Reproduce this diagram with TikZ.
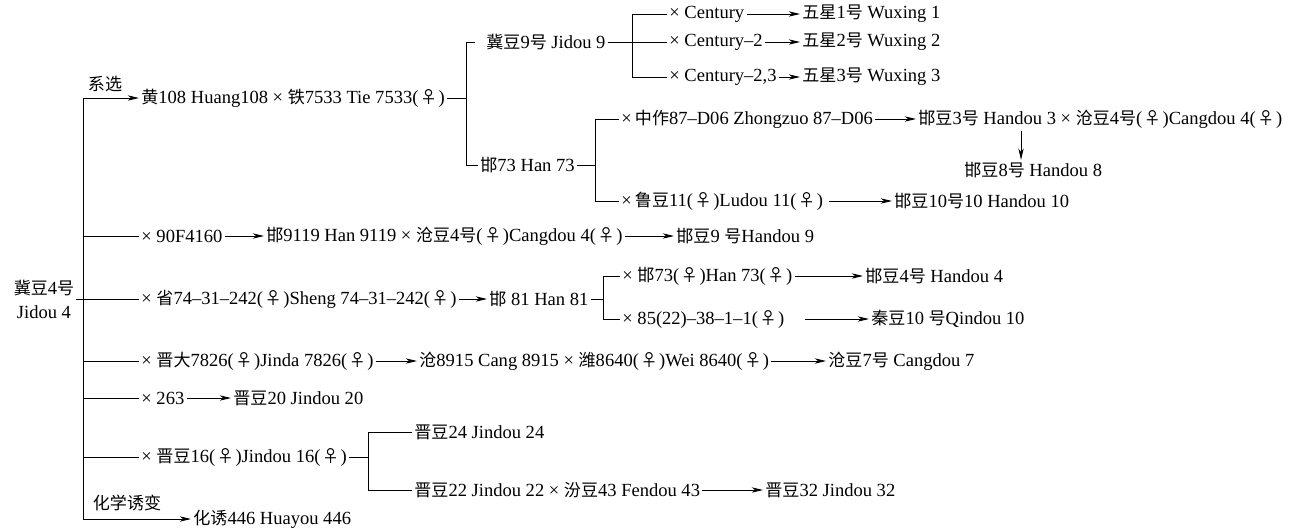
\documentclass[tikz,border=0pt]{standalone}
\usepackage{fontspec}
\setmainfont{Liberation Serif}
\newfontfamily\cjkf{Noto Sans CJK SC}[Scale=0.92]
\newcommand\zh[1]{{\cjkf #1}}
\newcommand\fem{\kern1.2pt{\cjkf ♀}\kern1.2pt}
\usetikzlibrary{arrows.meta}
\tikzset{
  lbl/.style={anchor=west, inner sep=1.5pt, font=\fontsize{13.9}{16}\selectfont},
  tag/.style={inner sep=1pt, font=\fontsize{13.9}{16}\selectfont},
  arr/.style={-{Stealth[length=8.5pt,width=4pt,inset=2.6pt]}},
}
\begin{document}
\begin{tikzpicture}[x=0.75pt,y=-0.75pt,line width=0.6pt]
\useasboundingbox (0,0) rectangle (1301,531);
% root
\node[tag, align=center, font=\fontsize{13.9}{18}\selectfont] (root) at (44,299) {\zh{冀豆}4\zh{号}\\Jidou 4};
% main spine
\coordinate (top) at (83,98);
\coordinate (bot) at (83,519);
\draw (top) -- (bot);
% branch 1
\node[tag] (xx) at (105,84) {\zh{系选}};
\node[lbl] (huang) at (139,98) {\zh{黄}108 Huang108 × \zh{铁}7533 Tie 7533(\fem)};
\draw[arr] (top) -- (huang.west);
\coordinate (b1) at (466,98);
\coordinate (b1t) at (466,42);
\coordinate (b1b) at (466,165);
\node[lbl] (jd9) at (484,42) {\zh{冀豆}9\zh{号} Jidou 9};
\node[lbl] (han73) at (478,165) {\zh{邯}73 Han 73};
\draw (huang.east) -- (b1);
\draw[shorten <=7pt] (jd9.west) -- (b1t) -- (b1b) -- (han73.west);
% Jidou 9 subtree
\node[lbl] (c1) at (667,14) {× Century};
\node[lbl] (c2) at (667,42) {× Century–2};
\node[lbl] (c3) at (667,77) {× Century–2,3};
\node[lbl] (w1) at (800,14) {\zh{五星}1\zh{号} Wuxing 1};
\node[lbl] (w2) at (800,42) {\zh{五星}2\zh{号} Wuxing 2};
\node[lbl] (w3) at (800,77) {\zh{五星}3\zh{号} Wuxing 3};
\coordinate (b2t) at (632,14);
\coordinate (b2b) at (632,77);
\draw (jd9.east) -- (c2.west);
\draw (c1.west) -- (b2t) -- (b2b) -- (c3.west);
\draw[arr] (c1.east) -- (w1.west);
\draw[arr] (c2.east) -- (w2.west);
\draw[arr] (c3.east) -- (w3.west);
% Han 73 subtree
\node[lbl] (zz) at (619,119) {×\,\zh{中作}87–D06 Zhongzuo 87–D06};
\node[lbl] (hd3) at (916,119) {\zh{邯豆}3\zh{号} Handou 3 × \zh{沧豆}4\zh{号}(\fem)Cangdou 4(\fem)};
\node[lbl] (hd8) at (962,170) {\zh{邯豆}8\zh{号} Handou 8};
\node[lbl] (ld) at (619,201) {×\,\zh{鲁豆}11(\fem)Ludou 11(\fem)};
\node[lbl] (hd10) at (892,201) {\zh{邯豆}10\zh{号}10 Handou 10};
\coordinate (b3) at (595,165);
\coordinate (b3t) at (595,119);
\coordinate (b3b) at (595,201);
\coordinate (dn) at (1021,0);
\draw (han73.east) -- (b3);
\draw (zz.west) -- (b3t) -- (b3b) -- (ld.west);
\draw[arr] (zz.east) -- (hd3.west);
\draw[arr] (hd3.south -| dn) -- (hd8.north -| dn);
\draw[arr, shorten <=3pt] (ld.east) -- (hd10.west);
% 90F4160
\node[lbl] (r90) at (139,236) {× 90F4160};
\node[lbl] (h9119) at (264,236) {\zh{邯}9119 Han 9119 × \zh{沧豆}4\zh{号}(\fem)Cangdou 4(\fem)};
\node[lbl] (hd9) at (674,236) {\zh{邯豆}9 \zh{号}Handou 9};
\draw (r90.west -| top) -- (r90.west);
\draw[arr] (r90.east) -- (h9119.west);
\draw[arr] (h9119.east) -- (hd9.west);
% Sheng
\node[lbl] (sheng) at (139,299) {× \zh{省}74–31–242(\fem)Sheng 74–31–242(\fem)};
\node[lbl] (h81) at (487,299) {\zh{邯} 81 Han 81};
\draw (root.east) -- (sheng.west);
\draw[arr] (sheng.east) -- (h81.west);
\coordinate (b4) at (603,299);
\coordinate (b4t) at (603,276);
\coordinate (b4b) at (603,319);
\node[lbl] (h73f) at (620,276) {× \zh{邯}73(\fem)Han 73(\fem)};
\node[lbl] (r85) at (620,319) {× 85(22)–38–1–1(\fem)};
\node[lbl] (hd4) at (863,276) {\zh{邯豆}4\zh{号} Handou 4};
\node[lbl] (qd10) at (869,319) {\zh{秦豆}10 \zh{号}Qindou 10};
\draw (h81.east) -- (b4);
\draw (h73f.west) -- (b4t) -- (b4b) -- (r85.west);
\draw[arr] (h73f.east) -- (hd4.west);
\draw[arr, shorten <=14pt] (r85.east) -- (qd10.west);
% Jinda
\node[lbl] (jinda) at (139,361) {× \zh{晋大}7826(\fem)Jinda 7826(\fem)};
\node[lbl] (cang) at (417,361) {\zh{沧}8915 Cang 8915 × \zh{潍}8640(\fem)Wei 8640(\fem)};
\node[lbl] (cd7) at (826,361) {\zh{沧豆}7\zh{号} Cangdou 7};
\draw (jinda.west -| top) -- (jinda.west);
\draw[arr] (jinda.east) -- (cang.west);
\draw[arr] (cang.east) -- (cd7.west);
% 263
\node[lbl] (r263) at (139,398) {× 263};
\node[lbl] (jd20) at (231,398) {\zh{晋豆}20 Jindou 20};
\draw (r263.west -| top) -- (r263.west);
\draw[arr] (r263.east) -- (jd20.west);
% Jindou 16
\node[lbl] (jd16) at (139,457) {× \zh{晋豆}16(\fem)Jindou 16(\fem)};
\node[lbl] (jd24) at (412,432) {\zh{晋豆}24 Jindou 24};
\node[lbl] (jd22) at (412,490) {\zh{晋豆}22 Jindou 22 × \zh{汾豆}43 Fendou 43};
\node[lbl] (jd32) at (763,490) {\zh{晋豆}32 Jindou 32};
\coordinate (b5) at (368,457);
\coordinate (b5t) at (368,432);
\coordinate (b5b) at (368,490);
\draw (jd16.east) -- (b5);
\draw (jd16.west -| top) -- (jd16.west);
\draw (jd24.west) -- (b5t) -- (b5b) -- (jd22.west);
\draw[arr] (jd22.east) -- (jd32.west);
% mutagenesis
\node[tag] (hx) at (127,503) {\zh{化学诱变}};
\node[lbl] (hy) at (191,519) {\zh{化诱}446 Huayou 446};
\draw[arr] (bot) -- (hy.west);
\end{tikzpicture}
\end{document}
